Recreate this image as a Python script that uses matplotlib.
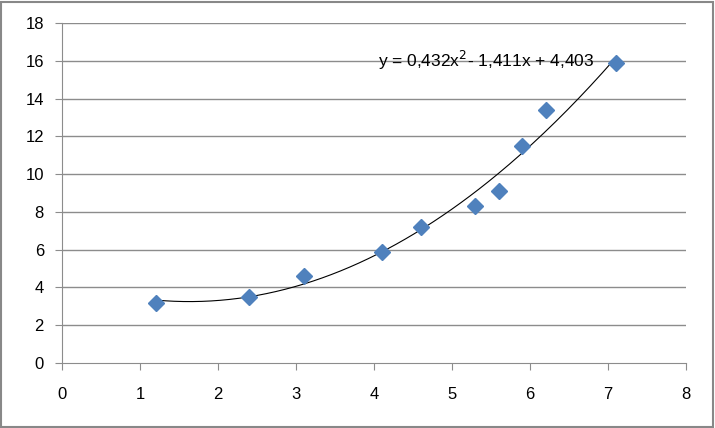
import numpy as np
import matplotlib.pyplot as plt
from matplotlib.patches import Rectangle

# data
x_vals = [1.2, 2.4, 3.1, 4.1, 4.6, 5.3, 5.6, 5.9, 6.2, 7.1]
y_vals = [3.2, 3.5, 4.6, 5.9, 7.2, 8.3, 9.1, 11.5, 13.4, 15.9]
trend_coef = [0.432, -1.411, 4.403]
x_ticks = [0, 1, 2, 3, 4, 5, 6, 7, 8]
y_ticks = [0, 2, 4, 6, 8, 10, 12, 14, 16, 18]

plt.rcParams['font.family'] = ['Liberation Sans', 'DejaVu Sans']

fig = plt.figure(figsize=(7.15, 4.28), dpi=100)
ax = fig.add_axes([0.0867, 0.1519, 0.8727, 0.7944])

grid_col = '#8c8c8c'
for yt in y_ticks[1:]:
    ax.axhline(yt, color=grid_col, linewidth=1, zorder=0)

# trendline
xs = np.linspace(min(x_vals), max(x_vals), 200)
ax.plot(xs, np.polyval(trend_coef, xs), color='black', linewidth=0.8, zorder=2)

ax.plot(x_vals, y_vals, linestyle='none', marker='D', markersize=8.5,
        color='#4F81BD', markeredgecolor='#4F81BD', zorder=3)

ax.text(4.05, 16.0, 'y = 0,432x$^{2}$- 1,411x + 4,403', fontsize=12.5,
        va='center', ha='left', zorder=4)

ax.set_xlim(0, 8)
ax.set_ylim(0, 18)
ax.set_xticks(x_ticks)
ax.set_yticks(y_ticks)
ax.tick_params(axis='both', direction='out', length=5, color=grid_col,
               labelsize=12)
ax.tick_params(axis='x', pad=12)
ax.tick_params(axis='y', pad=8)
for side in ['top', 'right']:
    ax.spines[side].set_visible(False)
for side in ['left', 'bottom']:
    ax.spines[side].set_color(grid_col)

# outer border like the chart frame
fig.patches.append(Rectangle((0.002, 0.003), 0.995, 0.993, transform=fig.transFigure,
                             fill=False, edgecolor='#888888', linewidth=1.5))

plt.savefig('out.png', dpi=100)
plt.close()
